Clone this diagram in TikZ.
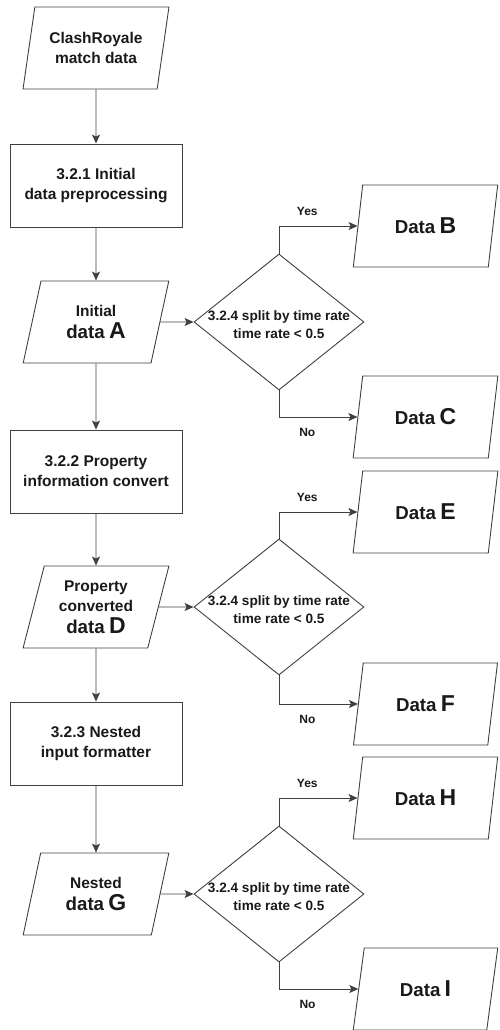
\documentclass[tikz,border=0pt]{standalone}
\usepackage{fontspec}
\setmainfont{Liberation Sans}
\usetikzlibrary{shapes.geometric,arrows.meta}
\newcommand\BigLetter[1]{{\fontsize{23}{24}\selectfont #1}}
\newcommand\DataWord[1]{{\fontsize{18.7}{24}\selectfont #1}}
\newcommand\DecText{\raisebox{-7.5pt}[0pt][0pt]{\makebox[0pt]{\begin{tabular}{@{}c@{}}3.2.4 split by time rate\\time rate \textless{} 0.5\end{tabular}}}}
\begin{document}
\begin{tikzpicture}[x=1pt,y=-1pt,
  every node/.style={font=\bfseries\fontsize{15.5}{20}\selectfont, text=black!90},
  proc/.style={draw=black!75, line width=0.9pt, rectangle, minimum width=172pt, minimum height=83pt, align=center, inner sep=0pt},
  io/.style={draw=black!75, line width=0.9pt, trapezium, trapezium left angle=74, trapezium right angle=106, trapezium stretches=true, minimum width=146pt, minimum height=82pt, align=center, inner sep=0pt},
  dec/.style={draw=black!75, line width=0.9pt, diamond, minimum width=170pt, minimum height=136pt, inner sep=0pt, font=\bfseries\fontsize{13.6}{17.5}\selectfont},
  arr/.style={draw=black!75, line width=0.9pt, -{Stealth[length=9pt,width=8pt,inset=2pt]}},
  lab/.style={font=\bfseries\fontsize{12}{14}\selectfont}
]
\useasboundingbox (0,0) rectangle (499,1030);
% left column
\node[io] (n1) at (96,48) {ClashRoyale\\match data};
\node[proc] (b1) at (96,185.5) {3.2.1 Initial\\data preprocessing};
\node[io] (A) at (96,322) {Initial\\[2pt]\DataWord{data} \BigLetter{A}};
\node[proc] (b2) at (96,471.5) {3.2.2 Property\\information convert};
\node[io] (D) at (96,607) {Property\\converted\\[2pt]\DataWord{data} \BigLetter{D}};
\node[proc] (b3) at (96,743.5) {3.2.3 Nested\\input formatter};
\node[io] (G) at (96,894) {Nested\\[2pt]\DataWord{data} \BigLetter{G}};
% decisions
\node[dec] (d1) at (279,322) {\DecText};
\node[dec] (d2) at (279,607) {\DecText};
\node[dec] (d3) at (279,894) {\DecText};
% outputs
\node[io, minimum width=145pt] (B) at (425.5,226) {\DataWord{Data} \BigLetter{B}};
\node[io, minimum width=145pt] (C) at (425.5,417) {\DataWord{Data} \BigLetter{C}};
\node[io, minimum width=145pt] (E) at (425.5,512) {\DataWord{Data} \BigLetter{E}};
\node[io, minimum width=145pt] (F) at (425.5,704) {\DataWord{Data} \BigLetter{F}};
\node[io, minimum width=145pt] (H) at (425.5,798) {\DataWord{Data} \BigLetter{H}};
\node[io, minimum width=145pt] (I) at (425.5,989) {\DataWord{Data} \BigLetter{I}};
% main flow
\draw[arr] (n1.south) -- (b1.north);
\draw[arr] (b1.south) -- (A.north);
\draw[arr] (A.south) -- (b2.north);
\draw[arr] (b2.south) -- (D.north);
\draw[arr] (D.south) -- (b3.north);
\draw[arr] (b3.south) -- (G.north);
\draw[arr] (A.east) -- (d1.west);
\draw[arr] (D.east) -- (d2.west);
\draw[arr] (G.east) -- (d3.west);
% branches
\draw[arr] (d1.north) |- (B.west) node[lab, pos=0.68, yshift=15pt] {Yes};
\draw[arr] (d1.south) |- (C.west) node[lab, pos=0.68, yshift=-15pt] {No};
\draw[arr] (d2.north) |- (E.west) node[lab, pos=0.68, yshift=15pt] {Yes};
\draw[arr] (d2.south) |- (F.west) node[lab, pos=0.68, yshift=-15pt] {No};
\draw[arr] (d3.north) |- (H.west) node[lab, pos=0.68, yshift=15pt] {Yes};
\draw[arr] (d3.south) |- (I.west) node[lab, pos=0.68, yshift=-15pt] {No};
\end{tikzpicture}
\end{document}
